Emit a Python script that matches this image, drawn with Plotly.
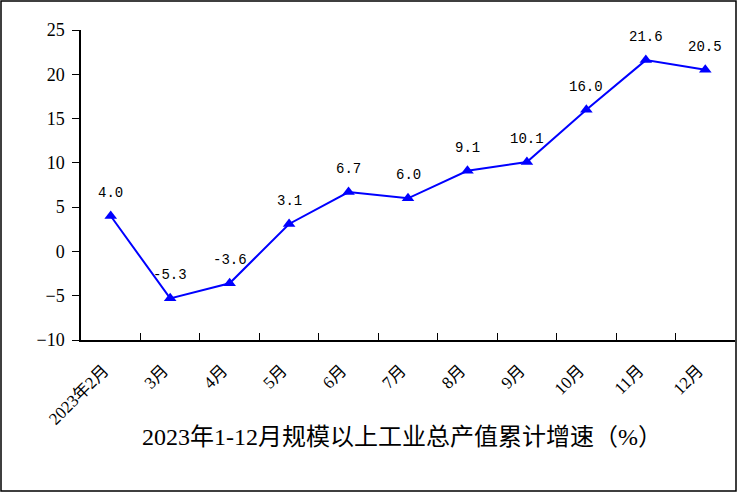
import plotly.graph_objects as go

months = ["2023年2月", "3月", "4月", "5月", "6月", "7月", "8月", "9月", "10月", "11月", "12月"]
growth = [4.0, -5.3, -3.6, 3.1, 6.7, 6.0, 9.1, 10.1, 16.0, 21.6, 20.5]
y_ticks = [-10, -5, 0, 5, 10, 15, 20, 25]

W, H = 738, 494
L, R, T, B = 81, 3, 30, 154
pw, ph = W - L - R, H - T - B

def px_to_paper(x, y):
    return (x - L) / pw, (H - B - y) / ph

fig = go.Figure()
fig.add_trace(go.Scatter(
    x=months, y=growth,
    mode="lines+markers",
    line=dict(color="#0000FF", width=2),
    marker=dict(symbol="triangle-up", size=11, color="#0000FF"),
    cliponaxis=False,
    showlegend=False,
))

for m, v in zip(months, growth):
    fig.add_annotation(x=m, y=v, text=f"{v:.1f}", showarrow=False,
                       yshift=23, xanchor="center", yanchor="middle",
                       font=dict(family="Liberation Mono, DejaVu Sans Mono, monospace",
                                 size=14, color="black"))

x0, y0 = px_to_paper(1, 1)
x1, y1 = px_to_paper(736, 491)
fig.add_shape(type="rect", xref="paper", yref="paper", x0=x0, y0=y1, x1=x1, y1=y0,
              line=dict(color="black", width=1.5), fillcolor="rgba(0,0,0,0)", layer="below")

tx, ty = px_to_paper(402, 437)
fig.add_annotation(xref="paper", yref="paper", x=tx, y=ty, showarrow=False,
                   text="2023年1-12月规模以上工业总产值累计增速（%）",
                   font=dict(family="Liberation Serif, Noto Sans CJK SC", size=24, color="black"),
                   xanchor="center", yanchor="middle")

fig.update_layout(
    width=W, height=H,
    margin=dict(l=L, r=R, t=T, b=B, autoexpand=False),
    paper_bgcolor="white", plot_bgcolor="white",
    font=dict(family="Liberation Serif, Noto Sans CJK SC", color="black"),
)
fig.update_xaxes(
    type="category", range=[-0.5, len(months) - 0.5],
    showline=True, linecolor="black", linewidth=1.5,
    ticks="inside", ticklen=7, tickcolor="black", tickson="boundaries",
    tickangle=-45, ticklabelstandoff=12, ticklabelshift=-7,
    tickfont=dict(size=17, family="Liberation Serif, Noto Sans CJK SC"),
    showgrid=False, zeroline=False, automargin=False,
)
fig.update_yaxes(
    range=[-10, 25], tickvals=y_ticks,
    showline=True, linecolor="black", linewidth=1.5,
    ticks="outside", ticklen=7, tickcolor="black", ticklabelstandoff=4,
    tickfont=dict(size=18, family="Liberation Serif"),
    showgrid=False, zeroline=False, automargin=False,
)

fig.write_html("out.html", config={"displayModeBar": False},
               post_script="document.body.style.margin='0';")
